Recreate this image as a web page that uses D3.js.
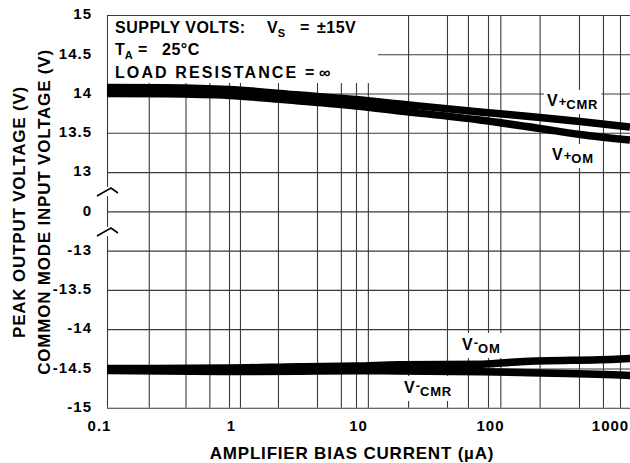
<!DOCTYPE html>
<html>
<head>
<meta charset="utf-8">
<script src="https://cdn.jsdelivr.net/npm/d3@7/dist/d3.min.js"></script>
<style>
  html, body { margin: 0; padding: 0; background: #fff; }
  svg { display: block; }
  text { font-family: "Liberation Sans", Arial, Helvetica, sans-serif; font-weight: bold; fill: #000; }
</style>
</head>
<body>
<svg id="chart" width="630" height="463"></svg>
<script>
// ---------------- data ----------------
const xTicks = [0.1, 1, 10, 100, 1000];
const xTickLabels = ["0.1", "1", "10", "100", "1000"];
const xGrid = [0.1, 0.22, 0.44, 0.69, 1, 1.22, 2.43, 4.93, 7.6, 10, 12.3, 24.8, 48.9, 70.5, 100, 124, 246, 489, 743, 1000];
const yTicks = [15, 14.5, 14, 13.5, 13, 0, -13, -13.5, -14, -14.5, -15];
const yTickLabels = ["15", "14.5", "14", "13.5", "13", "0", "-13", "-13.5", "-14", "-14.5", "-15"];

const posCurrent = [0.1, 0.3, 1, 3.6, 10, 21.5, 87, 248, 498, 1190];
const vPlusCMR   = [14.077, 14.073, 14.051, 13.981, 13.924, 13.867, 13.765, 13.695, 13.644, 13.574];
const vPlusOM    = [14.0, 13.996, 13.975, 13.905, 13.841, 13.778, 13.663, 13.555, 13.478, 13.408];

const negCurrent = [0.1, 1, 3.6, 10, 21.5, 90, 175, 1000, 1200];
const vMinusOM   = [-14.501, -14.495, -14.478, -14.470, -14.452, -14.446, -14.414, -14.380, -14.373];
const vMinusCMR  = [-14.526, -14.540, -14.536, -14.530, -14.532, -14.543, -14.552, -14.584, -14.590];

// ---------------- scales ----------------
const svg = d3.select("#chart");
const pL = 107, pR = 630, pT = 15, pB = 407.7;
const x = d3.scaleLog().domain([0.1, 1, 10, 100, 1000]).range([107, 229, 356, 488, 620]);
const step = (pB - pT) / 10;
const y = d3.scaleLinear()
  .domain([-15, -13, 0, 13, 15])
  .range([pB, pB - 4 * step, pB - 5 * step, pB - 6 * step, pT]);

svg.append("rect").attr("width", 630).attr("height", 463).attr("fill", "#fff");

// ---------------- grid ----------------
const gridX = svg.append("g").attr("transform", `translate(0,${pB})`)
  .call(d3.axisBottom(x).tickValues(xGrid).tickSize(-(pB - pT)).tickFormat(""));
gridX.select(".domain").remove();
gridX.selectAll("line").attr("stroke", "#3a3a3a").attr("stroke-width", 1.1);

const gridY = svg.append("g").attr("transform", `translate(${pL},0)`)
  .call(d3.axisLeft(y).tickValues(yTicks).tickSize(-(pR - pL)).tickFormat(""));
gridY.select(".domain").remove();
gridY.selectAll("line").attr("stroke", "#3a3a3a").attr("stroke-width", 1.1);

// axis breaks on left edge
svg.append("rect").attr("x", pL - 2).attr("y", 187).attr("width", 4).attr("height", 9).attr("fill", "#fff");
svg.append("rect").attr("x", pL - 2).attr("y", 227).attr("width", 4).attr("height", 9).attr("fill", "#fff");
svg.append("path").attr("d", "M97,196 L111,188 L118,193").attr("stroke", "#000").attr("stroke-width", 1.6).attr("fill", "none");
svg.append("path").attr("d", "M97,236 L111,228 L118,233").attr("stroke", "#000").attr("stroke-width", 1.6).attr("fill", "none");

// white box behind annotation
svg.append("rect").attr("x", pL + 1).attr("y", pT + 1).attr("width", 270).attr("height", 67).attr("fill", "#fff");

// ---------------- axes labels ----------------
const yAx = svg.append("g").attr("transform", `translate(${pL},0)`)
  .call(d3.axisLeft(y).tickValues(yTicks).tickSize(0).tickPadding(15)
    .tickFormat((d, i) => yTickLabels[i]));
yAx.select(".domain").remove();
yAx.selectAll("text").style("font-size", "15px").style("letter-spacing", "1px")
  .attr("dy", "0.25em").style("font-family", "'Liberation Sans', Arial, sans-serif").style("font-weight", "bold");

const xAx = svg.append("g").attr("transform", `translate(0,${pB})`)
  .call(d3.axisBottom(x).tickValues(xTicks).tickSize(0).tickPadding(13)
    .tickFormat((d, i) => xTickLabels[i]));
xAx.select(".domain").remove();
xAx.selectAll("text").style("font-size", "15px").style("letter-spacing", "1px")
  .style("font-family", "'Liberation Sans', Arial, sans-serif").style("font-weight", "bold")
  .attr("dx", (d, i) => i === 0 ? -8 : (i === xTicks.length - 1 ? -10 : 2));

svg.append("text").attr("x", 352).attr("y", 459).attr("text-anchor", "middle")
  .style("font-size", "17px").style("letter-spacing", "0.8px")
  .text("AMPLIFIER BIAS CURRENT (µA)");

svg.append("text").attr("transform", "translate(25,212) rotate(-90)").attr("text-anchor", "middle")
  .style("font-size", "17px").style("letter-spacing", "0.8px")
  .text("PEAK OUTPUT VOLTAGE (V)");
svg.append("text").attr("transform", "translate(50,212) rotate(-90)").attr("text-anchor", "middle")
  .style("font-size", "17px").style("letter-spacing", "0.8px")
  .text("COMMON MODE INPUT VOLTAGE (V)");

// ---------------- annotation ----------------
const t1 = svg.append("text").attr("y", 33).style("font-size", "16px");
t1.append("tspan").attr("x", 115).style("letter-spacing", "0.5px").text("SUPPLY VOLTS:");
t1.append("tspan").attr("x", 267).text("V");
t1.append("tspan").attr("dy", 4).style("font-size", "11px").text("S");
t1.append("tspan").attr("x", 300).attr("dy", -4).text("=");
t1.append("tspan").attr("x", 317).style("letter-spacing", "0.5px").text("±15V");

const t2 = svg.append("text").attr("y", 55).style("font-size", "16px");
t2.append("tspan").attr("x", 115).text("T");
t2.append("tspan").attr("dy", 4).style("font-size", "11px").text("A");
t2.append("tspan").attr("x", 138).attr("dy", -4).text("=");
t2.append("tspan").attr("x", 162).style("letter-spacing", "0.5px").text("25°C");

const t3 = svg.append("text").attr("y", 78).style("font-size", "16px");
t3.append("tspan").attr("x", 115).style("letter-spacing", "2.1px").text("LOAD RESISTANCE");
t3.append("tspan").attr("x", 305).text("=");
t3.append("tspan").attr("x", 319).text("∞");

// ---------------- curve labels (with white background) ----------------
function curveLabel(xPos, yPos, sign, sub) {
  const g = svg.append("g");
  const bg = g.append("rect").attr("fill", "#fff");
  const t = g.append("text").attr("x", xPos).attr("y", yPos).style("font-size", "16px");
  t.append("tspan").text("V");
  t.append("tspan").attr("dx", 1).attr("dy", sign === "+" ? 0 : -3).style("font-size", "13px").text(sign);
  t.append("tspan").attr("dy", sign === "+" ? 3 : 6).style("font-size", "13px").style("letter-spacing", "0.8px").text(sub);
  const b = t.node().getBBox();
  bg.attr("x", b.x - 3).attr("y", b.y - 2).attr("width", b.width + 6).attr("height", b.height + 4);
}
curveLabel(547, 106, "+", "CMR");
curveLabel(552, 160, "+", "OM");
curveLabel(462, 350, "-", "OM");
curveLabel(404, 393, "-", "CMR");

// ---------------- curves ----------------
const line = d3.line().x(d => x(d[0])).y(d => y(d[1])).curve(d3.curveMonotoneX);
const clip = svg.append("clipPath").attr("id", "plotclip");
clip.append("rect").attr("x", pL).attr("y", pT).attr("width", pR - pL).attr("height", pB - pT);
const curves = svg.append("g").attr("clip-path", "url(#plotclip)");
[[posCurrent, vPlusCMR], [posCurrent, vPlusOM], [negCurrent, vMinusOM], [negCurrent, vMinusCMR]]
  .forEach(([xs, ys]) => {
    curves.append("path")
      .datum(xs.map((v, i) => [v, ys[i]]))
      .attr("d", line)
      .attr("fill", "none")
      .attr("stroke", "#000")
      .attr("stroke-width", 7.5);
  });
</script>
</body>
</html>
